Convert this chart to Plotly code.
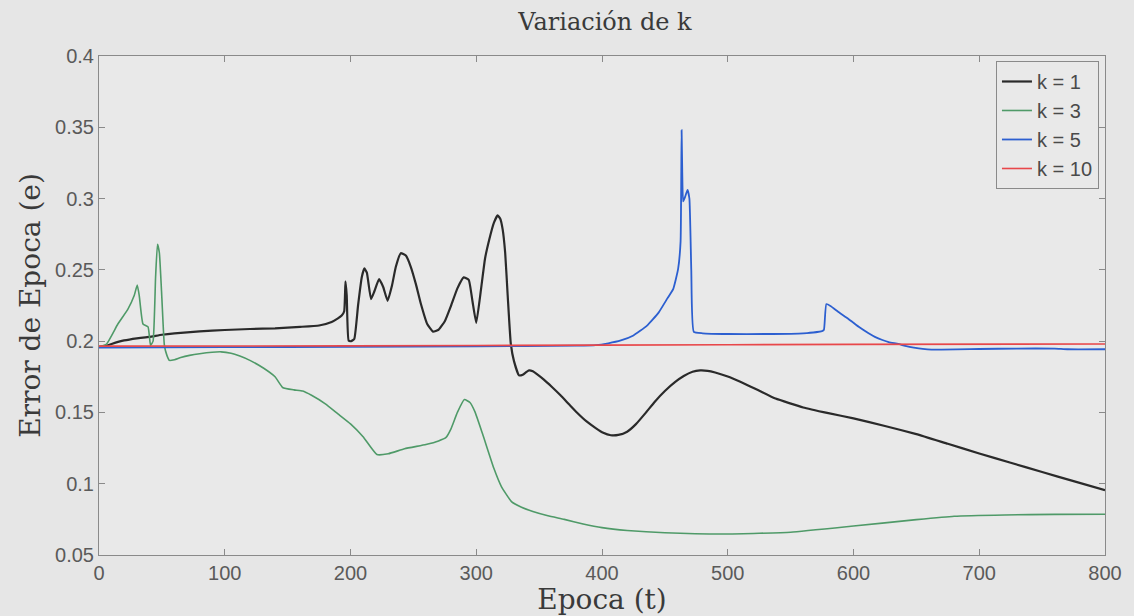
import plotly.graph_objects as go

# ---- data ----
t_k1 = [0, 5, 10, 20, 30, 40, 50, 60, 80, 100, 120, 140, 160, 175, 185, 190, 193, 195, 196, 197, 198.5,
        200.5, 203, 206, 209, 211, 213, 216.3, 219, 222.7, 226, 229.5, 233, 236, 240, 244, 248, 252, 256,
        261, 265.6, 270, 275, 280, 285, 290, 294, 297, 300, 303.8, 307, 310.4, 314, 317, 319, 321, 323,
        325, 327.5, 330, 334, 337, 340, 342, 345, 348, 354, 360, 367, 374, 380, 388, 395, 401, 407, 413,
        420, 427, 435, 442, 450, 458, 465, 472, 478, 484, 490, 500, 510, 524, 538, 560, 580, 600, 625, 650,
        675, 700, 725, 750, 775, 800]
v_k1 = [0.196, 0.1965, 0.198, 0.2005, 0.202, 0.203, 0.2045, 0.2055, 0.2068, 0.2078, 0.2085, 0.209, 0.21,
        0.211, 0.2135, 0.216, 0.218, 0.221, 0.242, 0.232, 0.2004, 0.2, 0.2015, 0.225, 0.245, 0.251, 0.248,
        0.2295, 0.235, 0.2435, 0.238, 0.2283, 0.239, 0.252, 0.2617, 0.26, 0.252, 0.24, 0.226, 0.212, 0.2067,
        0.208, 0.214, 0.225, 0.237, 0.2447, 0.243, 0.228, 0.2128, 0.2365, 0.258, 0.2715, 0.283, 0.2882,
        0.286, 0.2784, 0.262, 0.232, 0.198, 0.186, 0.176, 0.1765, 0.1785, 0.1795, 0.1788, 0.177, 0.1728,
        0.168, 0.162, 0.1555, 0.15, 0.1435, 0.139, 0.1357, 0.134, 0.1342, 0.1365, 0.1418, 0.15, 0.1575,
        0.165, 0.1712, 0.1755, 0.1785, 0.1795, 0.1792, 0.178, 0.1752, 0.1715, 0.1657, 0.1597, 0.1535, 0.1495,
        0.1458, 0.1405, 0.1348, 0.128, 0.1212, 0.1147, 0.1082, 0.1018, 0.0955]

t_k3 = [0, 6, 15, 23, 28, 30.4, 32, 35, 39, 41, 43, 45, 46.5, 48, 50, 52, 54, 56, 60, 65, 72, 80, 90, 97,
        105, 112, 120, 131, 140, 146, 155, 162, 169, 180, 190, 200, 210, 221, 230, 243, 260, 270, 276, 280,
        285, 290.6, 295, 299, 305, 314, 320, 328, 336, 345, 357, 370, 385, 400, 420, 450, 500, 550, 600,
        650, 680, 720, 760, 800]
v_k3 = [0.196, 0.198, 0.212, 0.2225, 0.232, 0.2393, 0.232, 0.212, 0.21, 0.197, 0.2, 0.245, 0.268, 0.262,
        0.23, 0.197, 0.19, 0.1865, 0.187, 0.1885, 0.19, 0.1912, 0.1922, 0.1925, 0.1915, 0.1895, 0.1865,
        0.181, 0.175, 0.1675, 0.1658, 0.165, 0.162, 0.156, 0.149, 0.142, 0.133, 0.1205, 0.121, 0.1245,
        0.1275, 0.13, 0.1325, 0.1387, 0.15, 0.159, 0.157, 0.1504, 0.135, 0.1108, 0.098, 0.0875, 0.0835,
        0.0805, 0.0775, 0.075, 0.0718, 0.0692, 0.0672, 0.0656, 0.0647, 0.066, 0.0703, 0.0748, 0.0772,
        0.0781, 0.0785, 0.0786]

t_k5 = [0, 100, 200, 300, 380, 395, 405, 415, 425, 435.6, 445, 452, 456.6, 460.5, 462.5, 463.3, 463.8,
        464.5, 466, 468, 469.5, 471, 473, 480, 500, 530, 560, 575, 576.5, 578.4, 582, 588, 596, 605, 612,
        617, 623, 628, 635.6, 642, 648, 655, 662, 700, 730, 760, 770, 800]
v_k5 = [0.1955, 0.1958, 0.196, 0.1963, 0.1968, 0.1972, 0.1985, 0.2005, 0.204, 0.2107, 0.22, 0.23, 0.2365,
        0.2505, 0.27, 0.348, 0.32, 0.298, 0.301, 0.306, 0.30, 0.25, 0.2065, 0.2055, 0.205, 0.205, 0.2055,
        0.207, 0.208, 0.226, 0.2245, 0.2205, 0.2156, 0.2095, 0.2055, 0.203, 0.2008, 0.1993, 0.198, 0.1965,
        0.1955, 0.1946, 0.1941, 0.1945, 0.1948, 0.1948, 0.1943, 0.1943]

t_k10 = [0, 200, 400, 600, 800]
v_k10 = [0.1965, 0.1967, 0.1972, 0.1977, 0.198]

names = ["k = 1", "k = 3", "k = 5", "k = 10"]
colors = ["#2a2a2a", "#4f9a68", "#2c5fd0", "#e8474a"]
widths = [2.2, 1.6, 1.8, 1.6]

x_ticks = [0, 100, 200, 300, 400, 500, 600, 700, 800]
y_ticks = [0.05, 0.1, 0.15, 0.2, 0.25, 0.3, 0.35, 0.4]
y_labels = ["0.05", "0.1", "0.15", "0.2", "0.25", "0.3", "0.35", "0.4"]

series = [(t_k1, v_k1), (t_k3, v_k3), (t_k5, v_k5), (t_k10, v_k10)]

fig = go.Figure()
for (tt, vv), n, c, w in zip(series, names, colors, widths):
    fig.add_trace(go.Scatter(x=tt, y=vv, mode="lines", name=n, legendgroup=n,
                             line=dict(color=c, width=w, shape="spline", smoothing=0.4)))

axis_common = dict(showline=True, linecolor="#8a8a8a", linewidth=1, mirror="ticks",
                   ticks="inside", ticklen=6, tickcolor="#8a8a8a", showgrid=False, zeroline=False,
                   tickfont=dict(family="Liberation Sans, Arial, sans-serif", size=20, color="#5a5a5a"))

serif = "DejaVu Serif, Liberation Serif, serif"

fig.update_layout(
    width=1134, height=616,
    margin=dict(l=99, r=23, t=56, b=59),
    paper_bgcolor="#e6e6e6", plot_bgcolor="#e9e9e9",
    title=dict(text="Variación de k", x=(99 + 1111) / 2 / 1134, xanchor="center", y=1 - 22 / 616,
               yanchor="middle", font=dict(family=serif, size=24, color="#3a3a3a")),
    xaxis=dict(range=[0, 800], tickvals=x_ticks,
               title=dict(text="Epoca (t)", standoff=0,
                          font=dict(family=serif, size=28, color="#3a3a3a")),
               **axis_common),
    yaxis=dict(range=[0.05, 0.4], tickvals=y_ticks, ticktext=y_labels,
               title=dict(text="Error de Epoca (e)", standoff=6,
                          font=dict(family=serif, size=28, color="#3a3a3a")),
               **axis_common),
    legend=dict(x=0.994, xanchor="right", y=0.99, yanchor="top", bgcolor="#e9e9e9",
                bordercolor="#8a8a8a", borderwidth=1, tracegroupgap=0,
                font=dict(family="Liberation Sans, Arial, sans-serif", size=20, color="#4a4a4a")),
    showlegend=True,
)

fig.write_html("out.html")
